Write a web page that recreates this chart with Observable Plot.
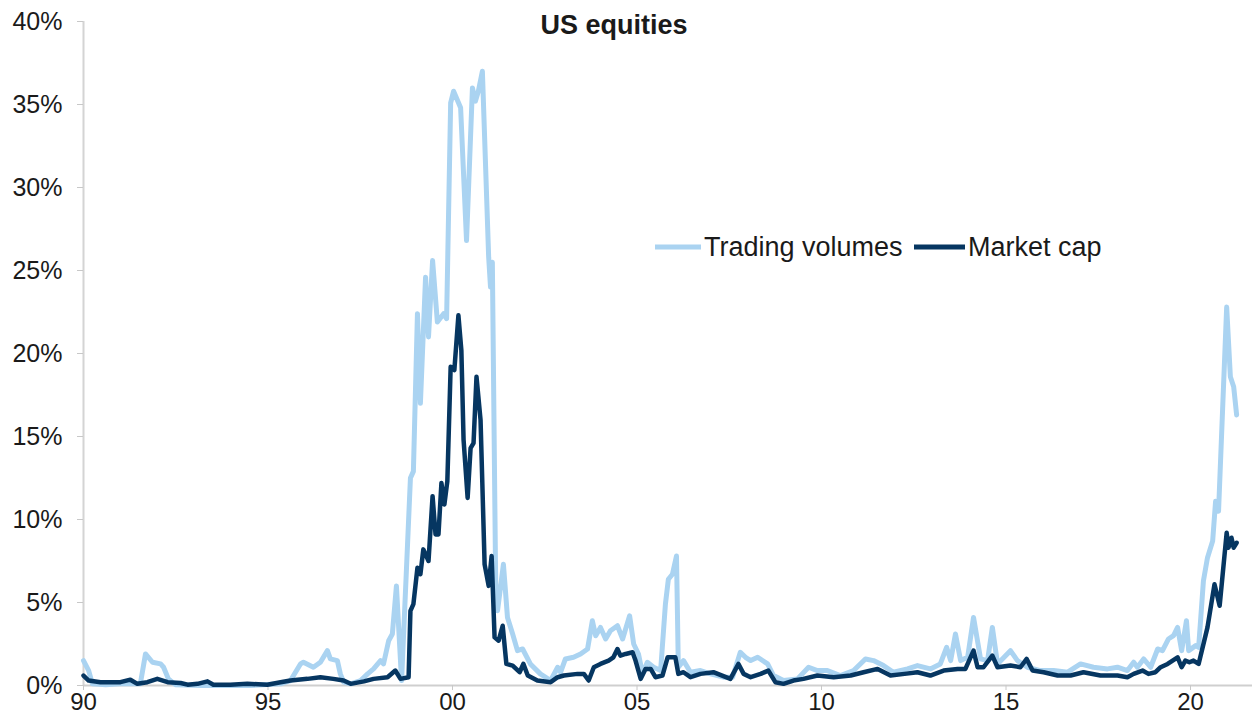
<!DOCTYPE html>
<html>
<head>
<meta charset="utf-8">
<script src="https://cdn.jsdelivr.net/npm/d3@7"></script>
<script src="https://cdn.jsdelivr.net/npm/@observablehq/plot@0.6"></script>
<style>
  html, body { margin: 0; padding: 0; background: #fff; }
  #wrap { position: relative; width: 1252px; height: 724px; font-family: "Liberation Sans", Arial, sans-serif; color: #1a1a1a; }
  #title { position: absolute; left: 0; width: 1228px; top: 9px; text-align: center; font-weight: bold; font-size: 27px; line-height: 32px; }
  .leg { position: absolute; top: 231px; display: flex; align-items: center; font-size: 27px; line-height: 32px; }
  .leg svg { margin-right: 3px; }
</style>
</head>
<body>
<div id="wrap">
  <div id="title">US equities</div>
  <div class="leg" style="left:655px"><svg width="46" height="8"><line x1="0" y1="4" x2="46" y2="4" stroke="#aad3f1" stroke-width="5"/></svg>Trading volumes</div>
  <div class="leg" style="left:914px"><svg width="51" height="8"><line x1="0" y1="4" x2="51" y2="4" stroke="#063661" stroke-width="5"/></svg>Market cap</div>
  <div id="chart"></div>
</div>
<script>
// Trading volumes series (decimal year, % share)
const volYears = [1990.00,1990.14,1990.24,1990.6,1991.0,1991.54,1991.68,1991.87,1992.09,1992.17,1992.30,1992.49,1993.2,1994.5,1995.34,1995.61,1995.88,1995.96,1996.23,1996.42,1996.61,1996.69,1996.88,1996.96,1997.05,1997.24,1997.51,1997.70,1997.86,1998.05,1998.13,1998.27,1998.37,1998.48,1998.62,1998.86,1998.94,1999.05,1999.13,1999.27,1999.35,1999.46,1999.59,1999.76,1999.84,1999.95,2000.03,2000.22,2000.38,2000.54,2000.62,2000.70,2000.81,2000.98,2001.03,2001.08,2001.17,2001.22,2001.38,2001.49,2001.63,2001.76,2001.90,2002.11,2002.38,2002.66,2002.85,2002.93,2003.06,2003.28,2003.47,2003.66,2003.79,2003.88,2004.01,2004.15,2004.28,2004.47,2004.61,2004.80,2004.91,2005.04,2005.15,2005.28,2005.45,2005.64,2005.77,2005.85,2005.96,2006.07,2006.12,2006.26,2006.45,2006.72,2006.99,2007.34,2007.59,2007.80,2007.94,2008.08,2008.27,2008.54,2008.70,2008.97,2009.35,2009.65,2009.89,2010.16,2010.51,2010.87,2011.19,2011.41,2011.68,2011.95,2012.33,2012.60,2012.95,2013.22,2013.39,2013.50,2013.63,2013.77,2013.96,2014.12,2014.31,2014.50,2014.63,2014.77,2015.12,2015.31,2015.58,2015.93,2016.29,2016.67,2017.02,2017.37,2017.75,2018.02,2018.29,2018.46,2018.56,2018.73,2018.92,2019.11,2019.24,2019.40,2019.54,2019.65,2019.76,2019.89,2019.95,2020.14,2020.22,2020.35,2020.46,2020.60,2020.68,2020.76,2020.98,2021.08,2021.17,2021.25];
const volValues = [1.5,0.9,0.1,0.05,0.1,0.1,1.9,1.4,1.3,1.1,0.4,0.05,0.0,0.0,0.1,0.3,1.3,1.4,1.1,1.4,2.1,1.6,1.5,0.7,0.2,0.1,0.3,0.7,1.0,1.5,1.3,2.7,3.1,6.0,0.3,12.5,12.9,22.4,17.0,24.6,21.0,25.6,21.9,22.4,22.1,35.1,35.8,34.8,26.8,36.0,35.2,35.8,37.0,25.8,24.0,25.5,6.1,4.5,7.3,4.1,3.1,2.1,2.2,1.3,0.7,0.3,1.1,0.8,1.6,1.7,1.9,2.2,3.9,3.0,3.5,2.8,3.3,3.6,2.8,4.2,2.5,1.9,0.7,1.4,1.1,0.9,4.9,6.4,6.7,7.8,1.1,1.5,0.8,0.9,0.7,0.5,0.5,2.0,1.7,1.5,1.7,1.3,0.6,0.3,0.4,1.1,0.9,0.9,0.6,0.9,1.6,1.5,1.2,0.8,1.0,1.2,1.0,1.3,2.3,1.5,3.1,1.5,1.7,4.1,1.6,1.5,3.5,1.3,2.1,1.5,1.1,0.9,0.9,0.8,1.3,1.1,1.0,1.1,0.9,1.4,1.1,1.6,1.1,2.2,2.1,2.8,3.0,3.5,2.1,3.9,2.1,2.4,2.3,6.3,7.7,8.7,11.1,10.5,22.8,18.6,18.0,16.3];

// Market cap series (decimal year, % share)
const capYears = [1990.00,1990.14,1990.46,1991.00,1991.27,1991.46,1991.73,1992.00,1992.28,1992.63,1992.82,1993.09,1993.36,1993.52,1993.98,1994.44,1994.98,1995.34,1995.61,1996.07,1996.42,1996.77,1997.05,1997.24,1997.60,1997.86,1998.24,1998.45,1998.59,1998.81,1998.86,1998.94,1999.05,1999.13,1999.21,1999.35,1999.46,1999.54,1999.62,1999.70,1999.78,1999.86,1999.95,2000.05,2000.16,2000.24,2000.30,2000.41,2000.49,2000.57,2000.65,2000.76,2000.87,2000.98,2001.06,2001.14,2001.25,2001.36,2001.46,2001.63,2001.82,2001.92,2002.04,2002.30,2002.66,2002.85,2003.02,2003.39,2003.56,2003.69,2003.83,2004.01,2004.23,2004.36,2004.47,2004.55,2004.69,2004.88,2004.96,2005.10,2005.23,2005.37,2005.50,2005.69,2005.83,2006.04,2006.12,2006.26,2006.45,2006.72,2007.07,2007.53,2007.75,2007.89,2008.08,2008.35,2008.56,2008.75,2008.97,2009.24,2009.51,2009.89,2010.33,2010.79,2011.14,2011.52,2011.87,2012.25,2012.60,2012.95,2013.31,2013.69,2013.90,2014.12,2014.23,2014.39,2014.63,2014.77,2015.12,2015.39,2015.56,2015.72,2016.02,2016.40,2016.75,2017.10,2017.56,2018.02,2018.29,2018.46,2018.70,2018.86,2019.05,2019.19,2019.38,2019.65,2019.76,2019.86,2019.97,2020.08,2020.22,2020.46,2020.65,2020.79,2020.98,2021.03,2021.11,2021.17,2021.25];
const capValues = [0.6,0.3,0.2,0.2,0.35,0.1,0.2,0.4,0.2,0.15,0.05,0.1,0.25,0.05,0.05,0.1,0.05,0.2,0.3,0.4,0.5,0.4,0.3,0.1,0.25,0.4,0.5,0.9,0.4,0.5,4.5,4.9,7.1,6.7,8.2,7.5,11.4,9.1,9.1,12.2,10.9,12.3,19.2,19.0,22.3,20.2,14.8,11.3,14.3,14.6,18.6,16.0,7.3,6.0,7.8,2.9,2.7,3.6,1.3,1.2,0.8,1.3,0.6,0.3,0.2,0.5,0.6,0.7,0.7,0.3,1.1,1.3,1.5,1.7,2.2,1.8,1.9,2.0,1.5,0.4,1.0,1.0,0.5,0.6,1.7,1.7,0.7,0.8,0.5,0.7,0.8,0.4,1.3,0.7,0.5,0.7,0.9,0.2,0.1,0.3,0.4,0.6,0.5,0.6,0.8,1.0,0.6,0.7,0.8,0.6,0.9,1.0,1.0,2.1,1.1,1.1,1.8,1.1,1.2,1.1,1.6,0.9,0.8,0.6,0.6,0.8,0.6,0.6,0.5,0.7,0.9,0.7,0.8,1.1,1.3,1.7,1.1,1.5,1.4,1.5,1.3,3.5,6.1,4.8,9.2,8.3,8.9,8.3,8.6];

const xTicks = [1990, 1995, 2000, 2005, 2010, 2015, 2020];
const yTicks = [0, 5, 10, 15, 20, 25, 30, 35, 40];

const vol = volYears.map((t, i) => ({t, v: volValues[i]}));
const cap = capYears.map((t, i) => ({t, v: capValues[i]}));

const chart = Plot.plot({
  width: 1252,
  height: 724,
  marginLeft: 83,
  marginRight: 0,
  marginTop: 21,
  marginBottom: 39,
  style: {fontFamily: '"Liberation Sans", Arial, sans-serif', fontSize: "24px", color: "#1a1a1a", background: "transparent"},
  x: {domain: [1990, 2021.68]},
  y: {domain: [0, 40]},
  marks: [
    Plot.ruleX([1990], {y1: 0, y2: 40, stroke: "#d4d4d4", strokeWidth: 2}),
    Plot.ruleY([0], {stroke: "#cfcfcf", strokeWidth: 2}),
    Plot.axisX({ticks: xTicks, tickFormat: d => String(d % 100).padStart(2, "0"), tickSize: 5, tickPadding: 2, stroke: "#c8c8c8", fill: "#1a1a1a", fontSize: 24, label: null}),
    Plot.axisY({ticks: yTicks, tickFormat: d => d + "%", tickSize: 6, tickPadding: 15, stroke: "#c8c8c8", fill: "#1a1a1a", fontSize: 25, label: null}),
    Plot.line(vol, {x: "t", y: "v", stroke: "#aad3f1", strokeWidth: 5, strokeLinejoin: "round"}),
    Plot.line(cap, {x: "t", y: "v", stroke: "#063661", strokeWidth: 4.5, strokeLinejoin: "round"})
  ]
});
document.getElementById("chart").appendChild(chart);
</script>
</body>
</html>
